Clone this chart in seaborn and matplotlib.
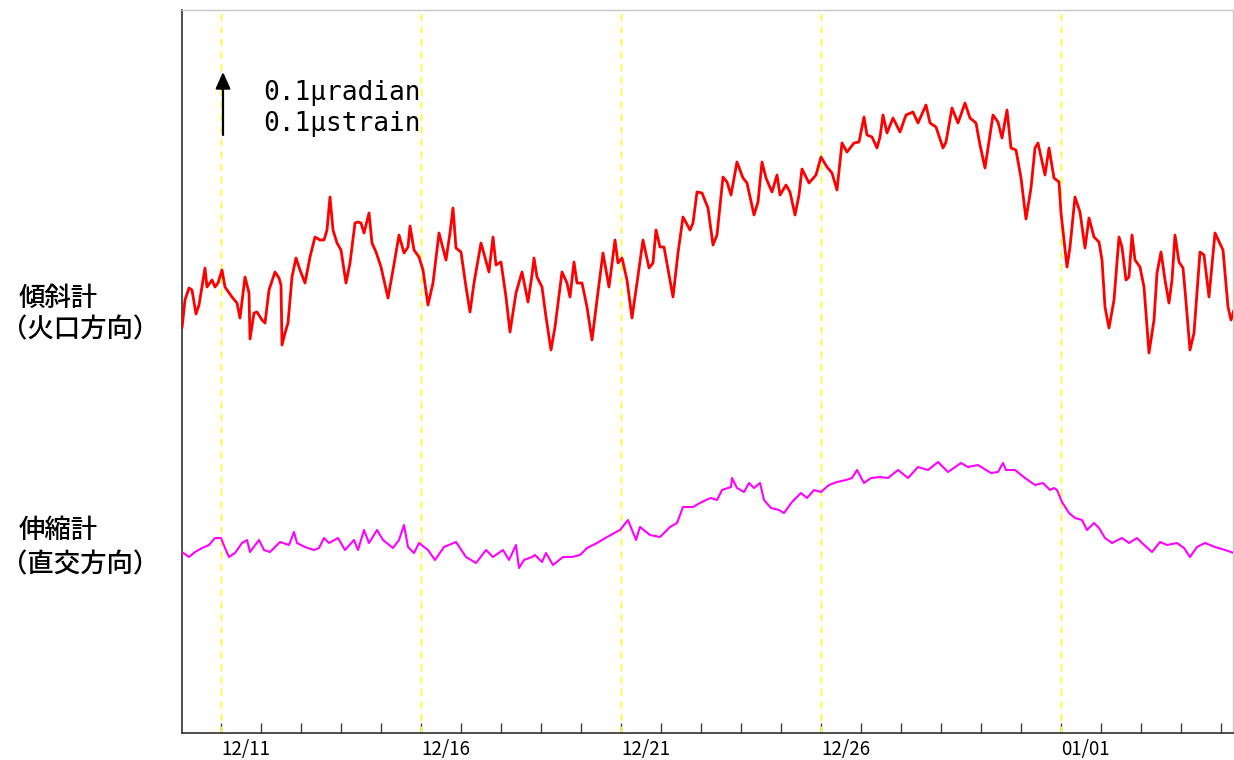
import matplotlib
matplotlib.use("Agg")
import matplotlib.pyplot as plt
from matplotlib.ticker import FixedLocator
import seaborn as sns
import pandas as pd

# time in days since 12/10 00:00, values in relative units (0.1 micro = 62 units)
tilt_day = [0.025, 0.100, 0.200, 0.275, 0.375, 0.450, 0.600, 0.650, 0.775, 0.850, 0.925,
            1.025, 1.100, 1.275, 1.400, 1.475, 1.600, 1.700, 1.725, 1.825, 1.900,
            2.025, 2.100, 2.200, 2.350, 2.450, 2.500, 2.525, 2.600, 2.675, 2.775, 2.875, 2.975,
            3.100, 3.225, 3.350, 3.475, 3.575, 3.650, 3.725, 3.800, 3.900, 4.000,
            4.125, 4.225, 4.350, 4.425, 4.500, 4.575, 4.700, 4.775, 4.875, 5.000,
            5.175, 5.300, 5.450, 5.575, 5.675, 5.725, 5.825, 5.950, 6.050, 6.175,
            6.300, 6.450, 6.625, 6.725, 6.800, 6.875, 7.000, 7.125, 7.225, 7.325,
            7.500, 7.650, 7.700, 7.800, 7.875, 8.000, 8.125, 8.225, 8.375, 8.525,
            8.675, 8.775, 8.825, 8.900, 9.025, 9.125, 9.250, 9.350, 9.525, 9.650,
            9.725, 9.825, 9.900, 10.025, 10.150, 10.275, 10.400, 10.550, 10.700, 10.850,
            10.925, 11.025, 11.150, 11.275, 11.400, 11.550, 11.700, 11.800, 11.875, 11.975,
            12.075, 12.300, 12.425, 12.550, 12.725, 12.800, 12.900, 13.025, 13.125, 13.175,
            13.300, 13.400, 13.550, 13.650, 13.750, 13.900, 14.050, 14.150, 14.325, 14.425,
            14.525, 14.625, 14.775, 14.900, 14.975, 15.125, 15.225, 15.350, 15.450, 15.525,
            15.700, 15.875, 16.000, 16.150, 16.275, 16.400, 16.525, 16.650, 16.825, 16.950,
            17.075, 17.150, 17.275, 17.400, 17.475, 17.550, 17.650, 17.800, 17.975, 18.125,
            18.300, 18.425, 18.625, 18.725, 18.875, 19.050, 19.125, 19.275, 19.425, 19.600,
            19.725, 19.875, 19.975, 20.100, 20.300, 20.425, 20.525, 20.650, 20.750, 20.875,
            21.000, 21.125, 21.250, 21.350, 21.425, 21.600, 21.700, 21.825, 21.950, 22.000,
            22.150, 22.225, 22.350, 22.475, 22.600, 22.700, 22.825, 22.950, 23.025, 23.100,
            23.200, 23.325, 23.450, 23.525, 23.625, 23.700, 23.775, 23.850, 23.975, 24.075,
            24.200, 24.325, 24.400, 24.500, 24.600, 24.700, 24.775, 24.850, 24.950, 25.050,
            25.100, 25.225, 25.325, 25.475, 25.575, 25.700, 25.850, 26.050, 26.175, 26.250,
            26.325]
tilt_val = [405, 433, 445, 443, 419, 428, 465, 446, 453, 446, 450,
            463, 446, 436, 430, 415, 456, 440, 394, 420, 421,
            413, 410, 443, 461, 455, 448, 388, 400, 410, 456, 475, 463,
            450, 476, 496, 493, 493, 503, 536, 503, 490, 483,
            450, 470, 510, 511, 510, 500, 520, 490, 481, 466,
            435, 463, 498, 480, 486, 507, 483, 476, 463, 428,
            450, 500, 473, 500, 525, 485, 481, 446, 421, 450,
            490, 468, 461, 496, 468, 471, 436, 401, 440, 461,
            431, 458, 475, 456, 446, 416, 383, 406, 461, 450,
            436, 471, 450, 450, 426, 393, 433, 480, 446, 493,
            470, 475, 453, 415, 450, 493, 465, 470, 503, 486,
            486, 436, 480, 516, 503, 510, 541, 540, 530, 525,
            488, 498, 556, 551, 538, 571, 555, 550, 518, 531,
            571, 555, 541, 558, 538, 548, 541, 518, 538, 564,
            550, 558, 576, 566, 560, 543, 590, 581, 590, 591,
            616, 598, 596, 585, 596, 618, 600, 615, 601, 618,
            621, 610, 628, 610, 606, 585, 591, 625, 610, 630,
            615, 610, 588, 565, 618, 611, 595, 623, 585, 583,
            555, 514, 545, 585, 590, 558, 585, 555, 551, 520,
            466, 486, 536, 521, 485, 515, 496, 491, 473, 426,
            405, 433, 496, 486, 453, 456, 498, 473, 466, 446,
            380, 413, 460, 481, 453, 430, 453, 498, 471, 465,
            443, 383, 400, 481, 478, 436, 500, 483, 426, 413,
            423]

strain_day = [0.025, 0.200, 0.350, 0.525, 0.700, 0.850, 1.000, 1.100, 1.200, 1.350,
              1.525, 1.650, 1.725, 1.950, 2.075, 2.225, 2.475, 2.700, 2.825, 2.900,
              3.100, 3.325, 3.450, 3.575, 3.700, 3.925, 4.100, 4.325, 4.425, 4.575,
              4.700, 4.900, 5.050, 5.300, 5.450, 5.575, 5.675, 5.825, 5.950, 6.175,
              6.350, 6.575, 6.875, 7.125, 7.375, 7.625, 7.800, 8.050, 8.200, 8.375,
              8.450, 8.575, 8.775, 8.850, 9.025, 9.125, 9.300, 9.550, 9.775, 9.975,
              10.150, 10.400, 10.650, 10.975, 11.175, 11.275, 11.375, 11.475, 11.725, 11.975,
              12.225, 12.400, 12.550, 12.800, 12.975, 13.125, 13.250, 13.400, 13.525, 13.750,
              13.775, 13.900, 14.075, 14.200, 14.325, 14.475, 14.575, 14.750, 14.950, 15.075,
              15.275, 15.500, 15.650, 15.825, 16.000, 16.200, 16.400, 16.625, 16.775, 16.900,
              17.075, 17.250, 17.475, 17.675, 17.925, 18.175, 18.425, 18.675, 18.925, 19.175,
              19.500, 19.675, 19.925, 20.250, 20.425, 20.550, 20.625, 20.850, 21.100, 21.350,
              21.550, 21.725, 21.825, 21.900, 22.025, 22.200, 22.350, 22.525, 22.650, 22.825,
              22.950, 23.100, 23.275, 23.525, 23.700, 23.900, 24.025, 24.275, 24.475, 24.650,
              24.900, 25.075, 25.225, 25.400, 25.600, 25.850, 26.100, 26.325]
strain_val = [181, 176, 181, 185, 188, 195, 195, 185, 176, 180,
              190, 193, 181, 193, 183, 181, 191, 188, 201, 190,
              186, 183, 185, 195, 190, 195, 183, 193, 183, 203,
              190, 203, 193, 185, 193, 208, 186, 180, 190, 183,
              173, 186, 191, 176, 170, 183, 176, 183, 173, 188,
              165, 173, 176, 178, 171, 180, 168, 176, 176, 178,
              185, 190, 196, 203, 213, 203, 193, 206, 198, 196,
              206, 210, 226, 226, 230, 233, 235, 233, 243, 246,
              255, 245, 241, 250, 245, 250, 233, 225, 223, 220,
              231, 240, 235, 243, 241, 248, 251, 253, 255, 263,
              250, 255, 256, 255, 263, 255, 266, 263, 271, 261,
              270, 266, 268, 260, 261, 270, 263, 263, 255, 248,
              250, 243, 245, 243, 231, 220, 215, 213, 203, 210,
              205, 195, 190, 195, 190, 195, 190, 181, 191, 188,
              190, 185, 176, 186, 190, 186, 183, 180]

tick_days = [1, 6, 11, 16, 22]
tick_labels = ["12/11", "12/16", "12/21", "12/26", "01/01"]
minor_days = list(range(1, 27))

sns.set_style("white")
plt.rcParams["font.family"] = ["Noto Sans CJK JP", "DejaVu Sans"]

W, H = 1234, 760
fig = plt.figure(figsize=(W / 100, H / 100), dpi=100)
ax = fig.add_axes([182 / W, (H - 733) / H, (1233 - 182) / W, (733 - 10) / H])

df_tilt = pd.DataFrame({"day": tilt_day, "val": tilt_val})
df_strain = pd.DataFrame({"day": strain_day, "val": strain_val})

for d in tick_days:
    ax.axvline(d, color="#ffff00", lw=1.0, ls=(0, (5, 4)), zorder=1)

sns.lineplot(data=df_tilt, x="day", y="val", ax=ax, color="#ff0000", lw=2.0,
             estimator=None, sort=False, zorder=3)
sns.lineplot(data=df_strain, x="day", y="val", ax=ax, color="#ff00ff", lw=1.5,
             estimator=None, sort=False, zorder=3)

ax.set_xlim(0.025, 26.3)
ax.set_ylim(0, 723)
ax.set_xlabel("")
ax.set_ylabel("")
ax.set_yticks([])
ax.xaxis.set_major_locator(FixedLocator(tick_days))
ax.xaxis.set_minor_locator(FixedLocator(minor_days))
ax.set_xticklabels(tick_labels, ha="left",
                   fontfamily=["Noto Sans CJK JP", "DejaVu Sans"], fontsize=13.5)
ax.tick_params(axis="x", which="both", direction="in", length=7.5, width=1.0,
               color="#404040", bottom=True, top=False, pad=4, labelcolor="black")

for side in ["left", "bottom"]:
    ax.spines[side].set_color("#303030")
    ax.spines[side].set_linewidth(1.2)
for side in ["top", "right"]:
    ax.spines[side].set_color("#c8c8c8")
    ax.spines[side].set_linewidth(1.0)

# scale arrow and text
ax.annotate("", xy=(1.05, 661), xytext=(1.05, 598),
            arrowprops=dict(arrowstyle="-|>,head_length=1.0,head_width=0.45",
                            color="black", lw=1.6, shrinkA=0, shrinkB=0))
ax.text(2.05, 733 - 100, "0.1μradian", fontfamily=["DejaVu Sans Mono"], fontsize=18.8,
        va="baseline", ha="left", color="black")
ax.text(2.05, 733 - 131, "0.1μstrain", fontfamily=["DejaVu Sans Mono"], fontsize=18.8,
        va="baseline", ha="left", color="black")

# left side labels
def ftext(px, py, s):
    fig.text(px / W, 1 - py / H, s, fontsize=19, va="center", ha="left",
             fontfamily=["Noto Sans CJK JP", "DejaVu Sans"], color="black",
             fontweight="medium")

ftext(19, 298, "傾斜計")
ftext(1, 330, "（火口方向）")
ftext(19, 530, "伸縮計")
ftext(1, 565, "（直交方向）")

fig.savefig("out.png", dpi=100)
